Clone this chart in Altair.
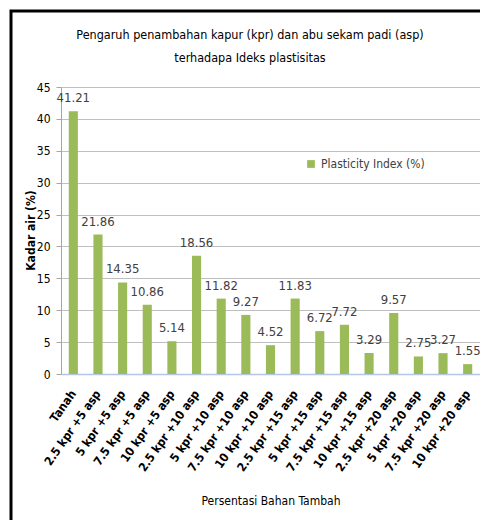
import altair as alt
import pandas as pd

categories = ["Tanah", "2.5 kpr +5 asp", "5 kpr +5 asp", "7.5 kpr +5 asp", "10 kpr +5 asp",
              "2.5 kpr +10 asp", "5 kpr +10 asp", "7.5 kpr +10 asp", "10 kpr +10 asp",
              "2.5 kpr +15 asp", "5 kpr +15 asp", "7.5 kpr +15 asp", "10 kpr +15 asp",
              "2.5 kpr +20 asp", "5 kpr +20 asp", "7.5 kpr +20 asp", "10 kpr +20 asp"]
values = [41.21, 21.86, 14.35, 10.86, 5.14, 18.56, 11.82, 9.27, 4.52, 11.83, 6.72, 7.72,
          3.29, 9.57, 2.75, 3.27, 1.55]
series_name = "Plasticity Index (%)"
y_ticks = [0, 5, 10, 15, 20, 25, 30, 35, 40, 45]
title_lines = ["Pengaruh penambahan kapur (kpr) dan abu sekam padi (asp)",
               "terhadapa Ideks plastisitas"]

df = pd.DataFrame({"cat": categories, "val": values, "series": series_name})
df["label"] = [f"{v:.2f}" for v in values]

FONT = "DejaVu Sans Condensed, Liberation Sans Narrow, Liberation Sans, sans-serif"
GREEN = "#9BBB59"

x = alt.X("cat:N", sort=categories,
          scale=alt.Scale(paddingInner=0.63, paddingOuter=0.315),
          axis=alt.Axis(title="Persentasi Bahan Tambah", labelAngle=-55, labelAlign="right",
                        labelBaseline="middle", labelFontWeight="bold", labelFontSize=12,
                        labelColor="#000000", labelPadding=17, ticks=False, labelOverlap=False,
                        domainColor="#b4c7e7", domainWidth=1.5,
                        titleFontSize=12, titleFontWeight="normal", titleColor="#000000",
                        titleY=126, titleBaseline="middle"))
y = alt.Y("val:Q", scale=alt.Scale(domain=[0, 45], nice=False),
          axis=alt.Axis(title="Kadar air (%)", values=y_ticks, labelFontSize=12,
                        labelColor="#000000", labelPadding=6, tickSize=5, tickColor="#a6a6a6",
                        domainColor="#a6a6a6", gridColor="#bfbfbf", grid=True,
                        labelOverlap=False,
                        titleFontSize=12, titleFontWeight="bold", titleColor="#000000",
                        titleAngle=-90, titleX=-31, titleY=143, titleBaseline="middle",
                        titleAlign="center"))

bars = alt.Chart(df).mark_bar(color=GREEN).encode(
    x=x, y=y,
    color=alt.Color("series:N", scale=alt.Scale(range=[GREEN]),
                    legend=alt.Legend(title=None, orient="none", legendX=244, legendY=71,
                                      symbolType="square", symbolSize=60,
                                      labelFontSize=12, labelColor="#404040",
                                      symbolStrokeWidth=0)))

labels = alt.Chart(df).mark_text(dy=-13, fontSize=13, color="#404040", baseline="middle").encode(
    x=x, y=y, text="label:N")

title_df = pd.DataFrame({"t": title_lines, "i": [0, 1]})
title1 = alt.Chart(title_df.iloc[[0]]).mark_text(fontSize=12.5, color="#000000", baseline="middle",
                                                  clip=False).encode(
    x=alt.value(189), y=alt.value(-52), text="t:N")
title2 = alt.Chart(title_df.iloc[[1]]).mark_text(fontSize=12.5, color="#000000", baseline="middle",
                                                  clip=False).encode(
    x=alt.value(189), y=alt.value(-29), text="t:N")

frame = alt.Chart(df.head(1)).mark_rect(filled=False, stroke="#000000", strokeWidth=3,
                                        clip=False).encode(
    x=alt.value(-50), x2=alt.value(520), y=alt.value(-76), y2=alt.value(600))

chart = alt.layer(bars, labels, title1, title2, frame).properties(
    width=419, height=287,
    autosize=alt.AutoSizeParams(type="none"),
    padding={"left": 53, "top": 79, "right": 0, "bottom": 146},
).configure(font=FONT).configure_view(stroke=None)

chart.save("out.html", embed_options={"renderer": "svg", "actions": False})
